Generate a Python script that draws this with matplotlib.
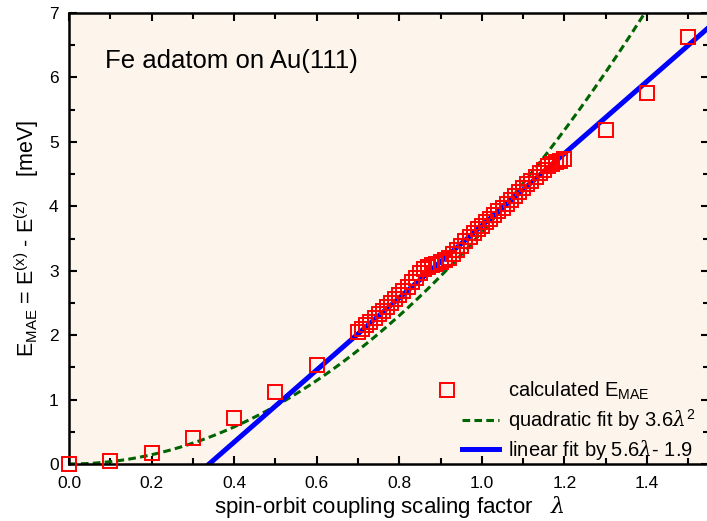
import numpy as np
import matplotlib
matplotlib.use("Agg")
import matplotlib.pyplot as plt
from matplotlib.ticker import MultipleLocator, FormatStrFormatter
from matplotlib.legend_handler import HandlerLine2D

plt.rcParams['font.family'] = ['Liberation Sans', 'DejaVu Sans']
plt.rcParams['mathtext.fontset'] = 'custom'
plt.rcParams['mathtext.rm'] = 'Liberation Sans'
plt.rcParams['mathtext.it'] = 'DejaVu Serif:italic'

# calculated data
lam_sparse = [0.0, 0.1, 0.2, 0.3, 0.4, 0.5, 0.6]
e_sparse = [0.0, 0.05, 0.17, 0.40, 0.71, 1.12, 1.53]
lam_dense = [round(0.70 + 0.01 * i, 2) for i in range(51)]
e_dense = [2.05, 2.10, 2.15, 2.21, 2.27, 2.33, 2.38, 2.44, 2.50, 2.56,
           2.62, 2.68, 2.75, 2.82, 2.89, 2.96, 3.02, 3.06, 3.09, 3.11,
           3.13, 3.16, 3.20, 3.26, 3.32, 3.39, 3.46, 3.52, 3.58, 3.64,
           3.70, 3.76, 3.81, 3.87, 3.93, 3.98, 4.04, 4.10, 4.16, 4.22,
           4.28, 4.34, 4.40, 4.46, 4.52, 4.57, 4.62, 4.66, 4.69, 4.71,
           4.73]
lam_tail = [1.3, 1.4, 1.5]
e_tail = [5.19, 5.76, 6.62]

lam_all = lam_sparse + lam_dense + lam_tail
e_all = e_sparse + e_dense + e_tail

quad_coef = 3.6
lin_slope, lin_icpt = 5.6, -1.9

fig = plt.figure(figsize=(7.07, 5.21), dpi=100)
ax = fig.add_axes([69/707, 1-464/521, 640/707, (464-13)/521])
ax.set_facecolor('#fdf5ec')

xq = np.linspace(0, 1.55, 300)
ax.plot(xq, quad_coef * xq**2, '--', color='#006400', lw=2.2, dashes=(2.5, 1.4),
        label=r'quadratic fit by 3.6$\lambda^2$', zorder=2)
ax.plot(xq, lin_slope * xq + lin_icpt, '-', color='#0000ff', lw=3.6,
        label=r'linear fit by 5.6$\lambda$- 1.9', zorder=2)
ax.plot(lam_all, e_all, 's', ms=10, mfc='none', mec='#ff0000', mew=1.4,
        label=r'calculated E$_{\rm MAE}$', zorder=3, clip_on=False)

ax.set_xlim(0, 1.55)
ax.set_ylim(0, 7)
ax.xaxis.set_major_locator(MultipleLocator(0.2))
ax.xaxis.set_minor_locator(MultipleLocator(0.1))
ax.yaxis.set_major_locator(MultipleLocator(1))
ax.yaxis.set_minor_locator(MultipleLocator(0.5))
ax.xaxis.set_major_formatter(FormatStrFormatter('%.1f'))
ax.tick_params(which='both', direction='in', top=True, right=True,
               labelsize=12.5, width=1.5)
ax.tick_params(axis='x', which='major', pad=9)
ax.tick_params(axis='y', which='major', pad=7.5)
ax.tick_params(which='major', length=6)
ax.tick_params(which='minor', length=4)
for s in ax.spines.values():
    s.set_linewidth(1.8)

ax.set_xlabel(r'spin-orbit coupling scaling factor   $\lambda$', fontsize=16)
ax.set_ylabel(r'E$_{\rm MAE}$ = E$^{\rm (x)}$ - E$^{\rm (z)}$    [meV]', fontsize=15.5)
ax.xaxis.set_label_coords(0.5, -0.066)
ax.yaxis.set_label_coords(-0.044, 0.5)

ax.text(0.087, 6.25, 'Fe adatom on Au(111)', fontsize=18.5, va='center', ha='left')


class ShiftHandler(HandlerLine2D):
    def create_artists(self, legend, orig_handle, xdescent, ydescent,
                       width, height, fontsize, trans):
        arts = super().create_artists(legend, orig_handle, xdescent, ydescent,
                                      width, height, fontsize, trans)
        for a in arts:
            a.set_xdata(np.asarray(a.get_xdata(), dtype=float) - 24)
        return arts


h, l = ax.get_legend_handles_labels()
order = [2, 0, 1]
ax.legend([h[i] for i in order], [l[i] for i in order], loc='lower right',
          bbox_to_anchor=(0.992, -0.014), borderaxespad=0, frameon=False,
          fontsize=14.5, handlelength=1.85, handletextpad=0.45,
          labelspacing=0.25, numpoints=1,
          handler_map={h[2]: ShiftHandler(numpoints=1)})

fig.savefig('out.png', dpi=100)
